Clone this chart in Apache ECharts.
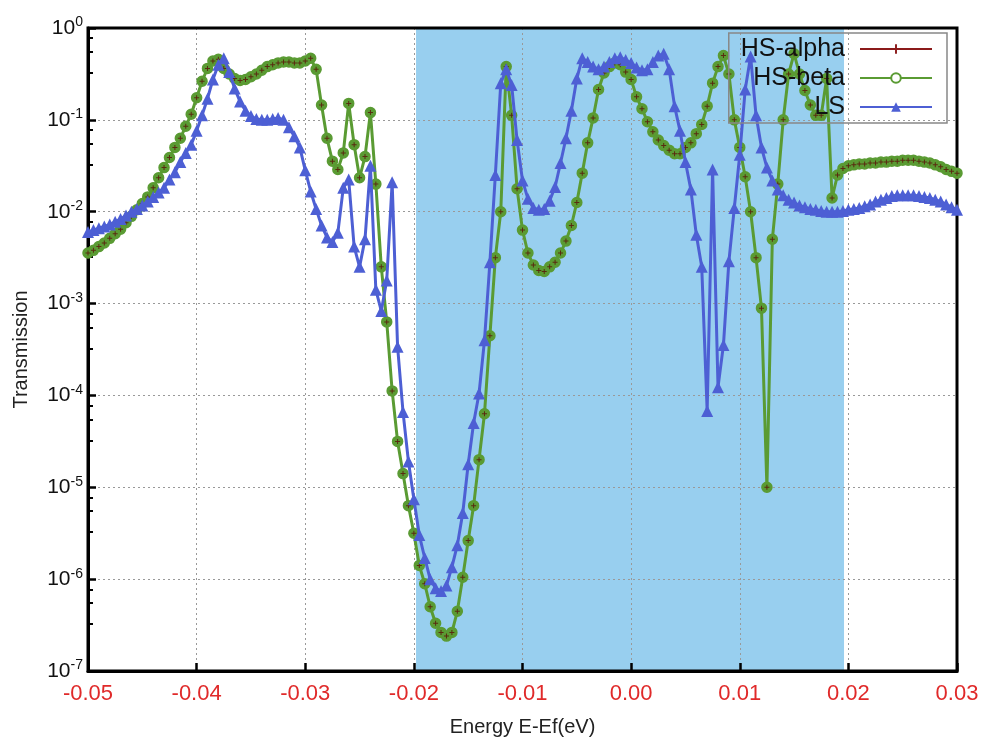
<!DOCTYPE html>
<html><head><meta charset="utf-8">
<script src="https://cdn.jsdelivr.net/npm/echarts@6/dist/echarts.min.js"></script>
<style>html,body{margin:0;padding:0;background:#fff}#c{width:993px;height:742px}</style>
</head><body><div id="c"></div>
<script>
// Energy grid (eV)
const energy = [
-0.05,-0.0495,-0.049,-0.0485,-0.048,-0.0475,-0.047,-0.0465,-0.046,-0.0455,
-0.045,-0.0445,-0.044,-0.0435,-0.043,-0.0425,-0.042,-0.0415,-0.041,-0.0405,
-0.04,-0.0395,-0.039,-0.0385,-0.038,-0.0375,-0.037,-0.0365,-0.036,-0.0355,
-0.035,-0.0345,-0.034,-0.0335,-0.033,-0.0325,-0.032,-0.0315,-0.031,-0.0305,
-0.03,-0.0295,-0.029,-0.0285,-0.028,-0.0275,-0.027,-0.0265,-0.026,-0.0255,
-0.025,-0.0245,-0.024,-0.0235,-0.023,-0.0225,-0.022,-0.0215,-0.021,-0.0205,
-0.02,-0.0195,-0.019,-0.0185,-0.018,-0.0175,-0.017,-0.0165,-0.016,-0.0155,
-0.015,-0.0145,-0.014,-0.0135,-0.013,-0.0125,-0.012,-0.0115,-0.011,-0.0105,
-0.01,-0.0095,-0.009,-0.0085,-0.008,-0.0075,-0.007,-0.0065,-0.006,-0.0055,
-0.005,-0.0045,-0.004,-0.0035,-0.003,-0.0025,-0.002,-0.0015,-0.001,-0.0005,
0,0.0005,0.001,0.0015,0.002,0.0025,0.003,0.0035,0.004,0.0045,
0.005,0.0055,0.006,0.0065,0.007,0.0075,0.008,0.0085,0.009,0.0095,
0.01,0.0105,0.011,0.0115,0.012,0.0125,0.013,0.0135,0.014,0.0145,
0.015,0.0155,0.016,0.0165,0.017,0.0175,0.018,0.0185,0.019,0.0195,
0.02,0.0205,0.021,0.0215,0.022,0.0225,0.023,0.0235,0.024,0.0245,
0.025,0.0255,0.026,0.0265,0.027,0.0275,0.028,0.0285,0.029,0.0295,
0.03];

// HS-alpha and HS-beta coincide in the picture
const hsAlpha = [
3.55e-3,3.8e-3,4.17e-3,4.57e-3,5.13e-3,5.75e-3,6.46e-3,7.59e-3,8.91e-3,1.05e-2,
1.23e-2,1.45e-2,1.82e-2,2.34e-2,3.02e-2,3.89e-2,5.01e-2,6.31e-2,8.51e-2,0.115,
0.174,0.263,0.363,0.437,0.457,0.363,0.316,0.282,0.269,0.275,
0.295,0.316,0.347,0.380,0.398,0.417,0.427,0.427,0.417,0.417,
0.437,0.468,0.355,0.145,6.31e-2,3.55e-2,2.88e-2,4.37e-2,0.151,5.37e-2,
2.34e-2,3.98e-2,0.120,2.0e-2,2.51e-3,6.31e-4,1.12e-4,3.16e-5,1.41e-5,6.31e-6,
3.16e-6,1.41e-6,8.91e-7,5.01e-7,3.31e-7,2.63e-7,2.40e-7,2.63e-7,4.47e-7,1.05e-6,
2.63e-6,6.31e-6,2.0e-5,6.31e-5,4.47e-4,3.16e-3,1.0e-2,0.38,0.112,1.78e-2,
6.31e-3,3.55e-3,2.63e-3,2.29e-3,2.24e-3,2.51e-3,2.82e-3,3.55e-3,4.79e-3,7.08e-3,
1.26e-2,2.63e-2,5.62e-2,0.105,0.214,0.324,0.380,0.417,0.398,0.331,
0.275,0.178,0.132,9.55e-2,7.41e-2,6.03e-2,5.25e-2,4.68e-2,4.27e-2,4.27e-2,
5.01e-2,5.62e-2,7.08e-2,8.91e-2,0.141,0.251,0.380,0.501,0.316,0.1,
5.01e-2,2.4e-2,1.0e-2,3.16e-3,8.91e-4,1.0e-5,5.01e-3,2.0e-2,0.1,0.316,
0.525,0.316,0.209,0.145,0.112,0.112,0.282,1.41e-2,2.51e-2,2.95e-2,
3.16e-2,3.24e-2,3.31e-2,3.31e-2,3.39e-2,3.39e-2,3.47e-2,3.47e-2,3.55e-2,3.55e-2,
3.63e-2,3.63e-2,3.63e-2,3.55e-2,3.47e-2,3.39e-2,3.24e-2,3.09e-2,2.88e-2,2.75e-2,
2.63e-2];
const hsBeta = hsAlpha.slice();

const ls = [
6.03e-3,6.31e-3,6.61e-3,6.92e-3,7.24e-3,7.76e-3,8.32e-3,9.12e-3,1.0e-2,1.07e-2,
1.17e-2,1.29e-2,1.45e-2,1.62e-2,1.82e-2,2.24e-2,2.69e-2,3.47e-2,4.37e-2,5.37e-2,
7.59e-2,0.112,0.170,0.275,0.398,0.468,0.331,0.219,0.158,0.126,
0.110,0.102,0.1,0.1,0.102,0.105,0.1,8.32e-2,6.61e-2,5.01e-2,
2.82e-2,1.66e-2,1.07e-2,7.08e-3,5.25e-3,4.68e-3,5.89e-3,1.82e-2,2.24e-2,4.17e-3,
2.51e-3,5.01e-3,3.16e-2,1.41e-3,8.32e-4,1.78e-3,2.09e-2,3.39e-4,6.61e-5,1.91e-5,
7.41e-6,3.02e-6,1.70e-6,1.0e-6,7.94e-7,7.41e-7,8.51e-7,1.35e-6,2.34e-6,5.25e-6,
1.78e-5,5.01e-5,1.05e-4,3.98e-4,2.82e-3,2.51e-2,0.251,0.355,0.240,6.03e-2,
2.19e-2,1.38e-2,1.10e-2,1.05e-2,1.07e-2,1.32e-2,1.86e-2,3.39e-2,6.31e-2,0.126,
0.282,0.468,0.427,0.380,0.355,0.380,0.427,0.468,0.479,0.447,
0.417,0.372,0.347,0.355,0.427,0.501,0.525,0.355,0.141,7.59e-2,
3.47e-2,1.74e-2,5.62e-3,2.51e-3,6.76e-5,2.88e-2,1.23e-4,3.55e-4,2.88e-3,1.10e-2,
4.17e-2,0.214,0.490,0.112,5.01e-2,3.02e-2,2.19e-2,1.74e-2,1.51e-2,1.35e-2,
1.26e-2,1.17e-2,1.12e-2,1.07e-2,1.05e-2,1.02e-2,1.0e-2,1.0e-2,1.0e-2,1.02e-2,
1.05e-2,1.07e-2,1.10e-2,1.15e-2,1.20e-2,1.29e-2,1.35e-2,1.41e-2,1.48e-2,1.51e-2,
1.51e-2,1.51e-2,1.51e-2,1.48e-2,1.45e-2,1.41e-2,1.35e-2,1.29e-2,1.20e-2,1.12e-2,
1.05e-2];

// shaded energy window
const shadeRange = [-0.0198, 0.0196];
const seriesNames = ['HS-alpha', 'HS-beta', 'LS'];

const RED = '#8b1a1a', GREEN = '#5a9b33', BLUE = '#4d5fd4';

function pairs(ys){ return energy.map((e,i)=>[e, ys[i]]); }

const chart = echarts.init(document.getElementById('c'), null, {renderer:'canvas'});
const FONT = 'Liberation Sans, Arial, sans-serif';
chart.setOption({
  animation:false,
  backgroundColor:'#fff',
  textStyle:{fontFamily:FONT},
  grid:{left:88,right:36,top:28,bottom:70,show:true,borderColor:'#000',borderWidth:3,backgroundColor:'transparent',z:3},
  legend:{
    data:[
      {name:'HS-alpha', lineStyle:{opacity:1,color:RED,width:2}, itemStyle:{color:RED}},
      {name:'HS-beta', itemStyle:{color:'#fff',borderColor:GREEN,borderWidth:2}},
      {name:'LS'}
    ],
    orient:'vertical', align:'right', right:46, top:33, z:10,
    itemWidth:72, itemHeight:12, itemGap:3,
    padding:[3,14,3,12], borderColor:'#888', borderWidth:1.5, backgroundColor:'transparent',
    textStyle:{fontSize:25, color:'#111', fontFamily:FONT, padding:[0,10,0,0], lineHeight:26}
  },
  xAxis:{
    type:'value', min:-0.05, max:0.03, interval:0.01, z:2,
    name:'Energy E-Ef(eV)', nameLocation:'middle', nameGap:46,
    nameTextStyle:{fontSize:20, color:'#222', fontFamily:FONT},
    axisLine:{show:true,onZero:false,lineStyle:{color:'#000',width:3}},
    axisTick:{show:true,inside:true,length:8,lineStyle:{color:'#000',width:2.5}},
    splitLine:{show:true,showMinLine:false,showMaxLine:false,lineStyle:{color:'#999',width:1,type:[2,3]}},
    axisLabel:{color:'#e02a2a',fontSize:22,margin:12,fontFamily:FONT,
      formatter:v=>v.toFixed(2)}
  },
  yAxis:{
    type:'log', logBase:10, min:1e-7, max:1, splitNumber:7, z:2,
    name:'Transmission', nameLocation:'middle', nameGap:57,
    nameTextStyle:{fontSize:20, color:'#222', fontFamily:FONT},
    axisLine:{show:true,onZero:false,lineStyle:{color:'#000',width:3}},
    axisTick:{show:true,inside:true,length:8,lineStyle:{color:'#000',width:2.5}},
    minorTick:{show:true,splitNumber:4,length:5,lineStyle:{color:'#000',width:2}},
    splitLine:{show:true,showMinLine:false,showMaxLine:false,lineStyle:{color:'#999',width:1,type:[2,3]}},
    axisLabel:{margin:5,
      formatter:v=>{const e=Math.round(Math.log10(v)); return '{b|10}{s|'+e+'}';},
      rich:{b:{fontSize:21,color:'#111',fontFamily:FONT},
            s:{fontSize:14,color:'#111',fontFamily:FONT,verticalAlign:'bottom',padding:[0,0,11,0]}}}
  },
  series:[
    {name:'shade', type:'line', data:[], z:0, silent:true,
     markArea:{silent:true, z:0, itemStyle:{color:'#98cfef'},
       data:[[{xAxis:shadeRange[0]},{xAxis:shadeRange[1]}]]}},
    {name:'HS-beta', type:'line', data:pairs(hsBeta), z:4, showAllSymbol:true,
     symbol:'circle', symbolSize:10, color:GREEN,
     lineStyle:{color:GREEN,width:3},
     itemStyle:{color:GREEN,borderColor:GREEN,borderWidth:1.5}},
    {name:'HS-alpha', type:'line', data:pairs(hsAlpha), z:5, showAllSymbol:true,
     symbol:'path://M4,0h2v4h4v2h-4v4h-2v-4h-4v-2h4z', symbolSize:5,
     color:RED, lineStyle:{color:RED,width:2,opacity:0}, itemStyle:{color:'#5a2a10'}},
    {name:'LS', type:'line', data:pairs(ls), z:6, showAllSymbol:true,
     symbol:'triangle', symbolSize:12, color:BLUE,
     lineStyle:{color:BLUE,width:3}, itemStyle:{color:BLUE}}
  ]
});
</script></body></html>
